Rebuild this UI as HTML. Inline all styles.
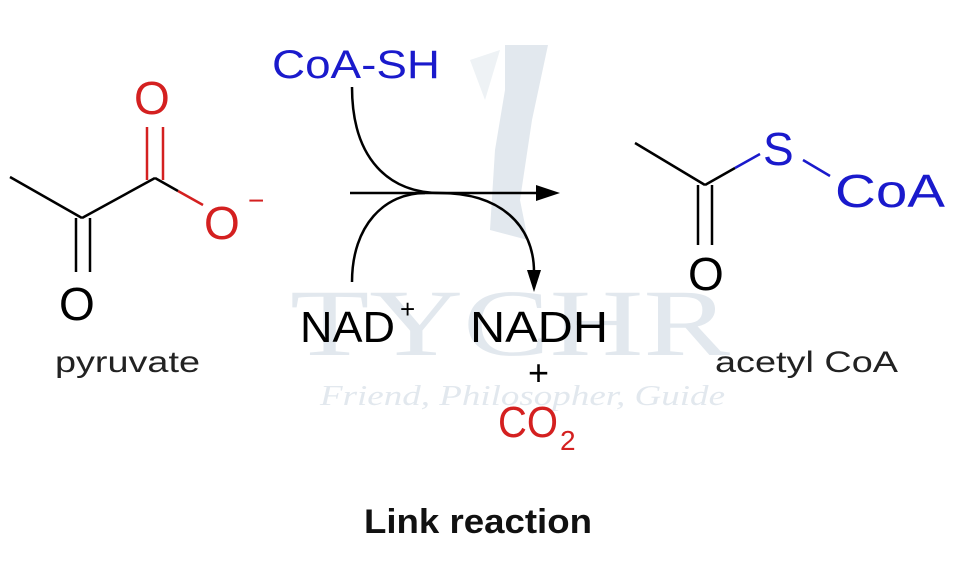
<!DOCTYPE html>
<html><head><meta charset="utf-8"><style>
html,body{margin:0;padding:0;background:#fff;}
svg{display:block;}
.s{font-family:"Liberation Sans",Arial,sans-serif;}
.w{font-family:"Liberation Serif",serif;}
</style></head><body>
<svg width="967" height="563" viewBox="0 0 967 563" xmlns="http://www.w3.org/2000/svg">
<!-- watermark -->
<g fill="#e2e8ee">
<path d="M505,45 L548,45 L532,120 L520,200 L528,240 L490,230 L495,150 L505,90 Z"/>
<path d="M470,60 L500,50 L485,100 Z" fill="#eef2f5"/>
<text class="w" x="290" y="355" style="font-family:'Liberation Serif',serif" font-size="95" textLength="440" lengthAdjust="spacingAndGlyphs">TYCHR</text>
<text class="w" x="320" y="405" style="font-family:'Liberation Serif',serif;font-style:italic" font-size="28" textLength="405" lengthAdjust="spacingAndGlyphs">Friend, Philosopher, Guide</text>
</g>
<g class="s">
<!-- pyruvate -->
<g stroke="#000" stroke-width="2.5" fill="none">
<line x1="10" y1="177" x2="82" y2="218"/>
<line x1="82" y1="218" x2="155" y2="178"/>
<line x1="76" y1="218" x2="76" y2="272"/>
<line x1="90" y1="218" x2="90" y2="272"/>
<line x1="155" y1="178" x2="178" y2="191"/>
</g>
<g stroke="#d42020" stroke-width="2.5" fill="none">
<line x1="147" y1="180" x2="147" y2="127"/>
<line x1="163" y1="180" x2="163" y2="127"/>
<line x1="178" y1="191" x2="203" y2="205"/>
</g>
<text x="134" y="114" font-size="46" fill="#d42020">O</text>
<text x="204" y="239" font-size="46" fill="#d42020">O</text>
<text x="248" y="210" font-size="28" fill="#d42020">−</text>
<text x="59" y="320" font-size="46" fill="#000">O</text>
<text x="55" y="372" font-size="30" fill="#222" textLength="145" lengthAdjust="spacingAndGlyphs">pyruvate</text>
<!-- arrows -->
<g stroke="#000" stroke-width="2.5" fill="none">
<line x1="350" y1="193" x2="540" y2="193"/>
<path d="M352,87 C352,160 390,193 440,193"/>
<path d="M352,282 C352,225 385,193 425,193"/>
<path d="M440,193 C500,193 534,225 534,272"/>
</g>
<path d="M536,185 L560,193 L536,201 Z" fill="#000"/>
<path d="M527,270 L534,292 L541,270 Z" fill="#000"/>
<text x="272" y="78" font-size="40" fill="#1a1acc" textLength="168" lengthAdjust="spacingAndGlyphs">CoA-SH</text>
<text x="300" y="342" font-size="44" fill="#000" textLength="95" lengthAdjust="spacingAndGlyphs">NAD</text>
<text x="400" y="318" font-size="26" fill="#000">+</text>
<text x="470" y="342" font-size="44" fill="#000" textLength="138" lengthAdjust="spacingAndGlyphs">NADH</text>
<text x="528" y="385" font-size="36" fill="#000">+</text>
<text x="498" y="437" font-size="44" fill="#d42020" textLength="60" lengthAdjust="spacingAndGlyphs">CO</text>
<text x="560" y="450" font-size="28" fill="#d42020">2</text>
<!-- acetyl CoA -->
<g stroke="#000" stroke-width="2.5" fill="none">
<line x1="635" y1="143" x2="705" y2="185"/>
<line x1="705" y1="185" x2="735" y2="168"/>
<line x1="698" y1="185" x2="698" y2="245"/>
<line x1="712" y1="185" x2="712" y2="245"/>
</g>
<g stroke="#1a1acc" stroke-width="2.5" fill="none">
<line x1="735" y1="168" x2="760" y2="154"/>
<line x1="803" y1="160" x2="830" y2="176"/>
</g>
<text x="688" y="290" font-size="46" fill="#000">O</text>
<text x="763" y="165" font-size="46" fill="#1a1acc">S</text>
<text x="835" y="207" font-size="46" fill="#1a1acc" textLength="110" lengthAdjust="spacingAndGlyphs">CoA</text>
<text x="715" y="372" font-size="30" fill="#222" textLength="183" lengthAdjust="spacingAndGlyphs">acetyl CoA</text>
<text x="478" y="533" font-size="34" font-weight="bold" fill="#111" text-anchor="middle" textLength="228" lengthAdjust="spacingAndGlyphs">Link reaction</text>
</g>
</svg>
</body></html>
